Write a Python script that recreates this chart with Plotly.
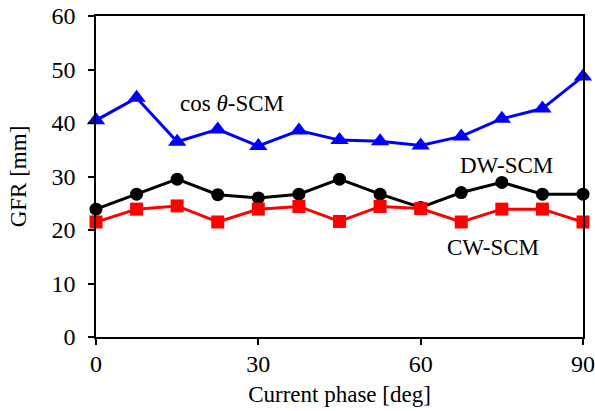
import plotly.graph_objects as go

phase = [0, 7.5, 15, 22.5, 30, 37.5, 45, 52.5, 60, 67.5, 75, 82.5, 90]
cos_scm = [40.5, 44.7, 36.5, 38.8, 35.7, 38.6, 36.8, 36.6, 35.8, 37.5, 40.8, 42.7, 48.7]
dw_scm = [23.9, 26.7, 29.5, 26.6, 26.0, 26.7, 29.5, 26.7, 24.2, 27.0, 28.9, 26.7, 26.7]
cw_scm = [21.5, 23.9, 24.5, 21.5, 23.9, 24.4, 21.6, 24.4, 24.0, 21.5, 23.9, 23.9, 21.5]

font = "Liberation Serif"

fig = go.Figure()
fig.add_trace(go.Scatter(x=phase, y=cos_scm, mode="lines+markers",
                         line=dict(color="#0000ff", width=3),
                         marker=dict(symbol="triangle-up", size=16, color="#0000ff")))
fig.add_trace(go.Scatter(x=phase, y=dw_scm, mode="lines+markers",
                         line=dict(color="#000000", width=3),
                         marker=dict(symbol="circle", size=13, color="#000000")))
fig.add_trace(go.Scatter(x=phase, y=cw_scm, mode="lines+markers",
                         line=dict(color="#ff0000", width=3),
                         marker=dict(symbol="square", size=13, color="#ff0000")))

annots = [
    (25.1, 43.7, "cos <i>θ</i>-SCM"),
    (75.8, 32.1, "DW-SCM"),
    (73.4, 16.8, "CW-SCM"),
]
for x, y, t in annots:
    fig.add_annotation(x=x, y=y, text=t, showarrow=False,
                       font=dict(family=font, size=23, color="black"))

fig.update_layout(
    width=595, height=411,
    margin=dict(l=96, r=12, t=16, b=74),
    paper_bgcolor="white", plot_bgcolor="white",
    showlegend=False,
    font=dict(family=font, size=23, color="black"),
    xaxis=dict(range=[0, 90], tickvals=[0, 30, 60, 90], showgrid=False, zeroline=False,
               showline=True, linecolor="black", linewidth=1.5, mirror=True,
               ticks="outside", ticklen=6, tickwidth=1.5, tickcolor="black",
               tickfont=dict(family=font, size=24), automargin=False, ticklabelstandoff=-2,
               title=dict(text="Current phase [deg]", standoff=10, font=dict(family=font, size=23))),
    yaxis=dict(range=[0, 60], tickvals=[0, 10, 20, 30, 40, 50, 60], showgrid=False, zeroline=False,
               showline=True, linecolor="black", linewidth=1.5, mirror=True,
               ticks="outside", ticklen=6, tickwidth=1.5, tickcolor="black",
               tickfont=dict(family=font, size=24), automargin=False, ticklabelstandoff=8,
               title=dict(text="GFR [mm]", standoff=18, font=dict(family=font, size=23))),
)
for tr in fig.data:
    tr.cliponaxis = False

fig.write_html("out.html", config={"displayModeBar": False},
               post_script="document.body.style.margin='0';document.body.style.overflow='hidden';")
